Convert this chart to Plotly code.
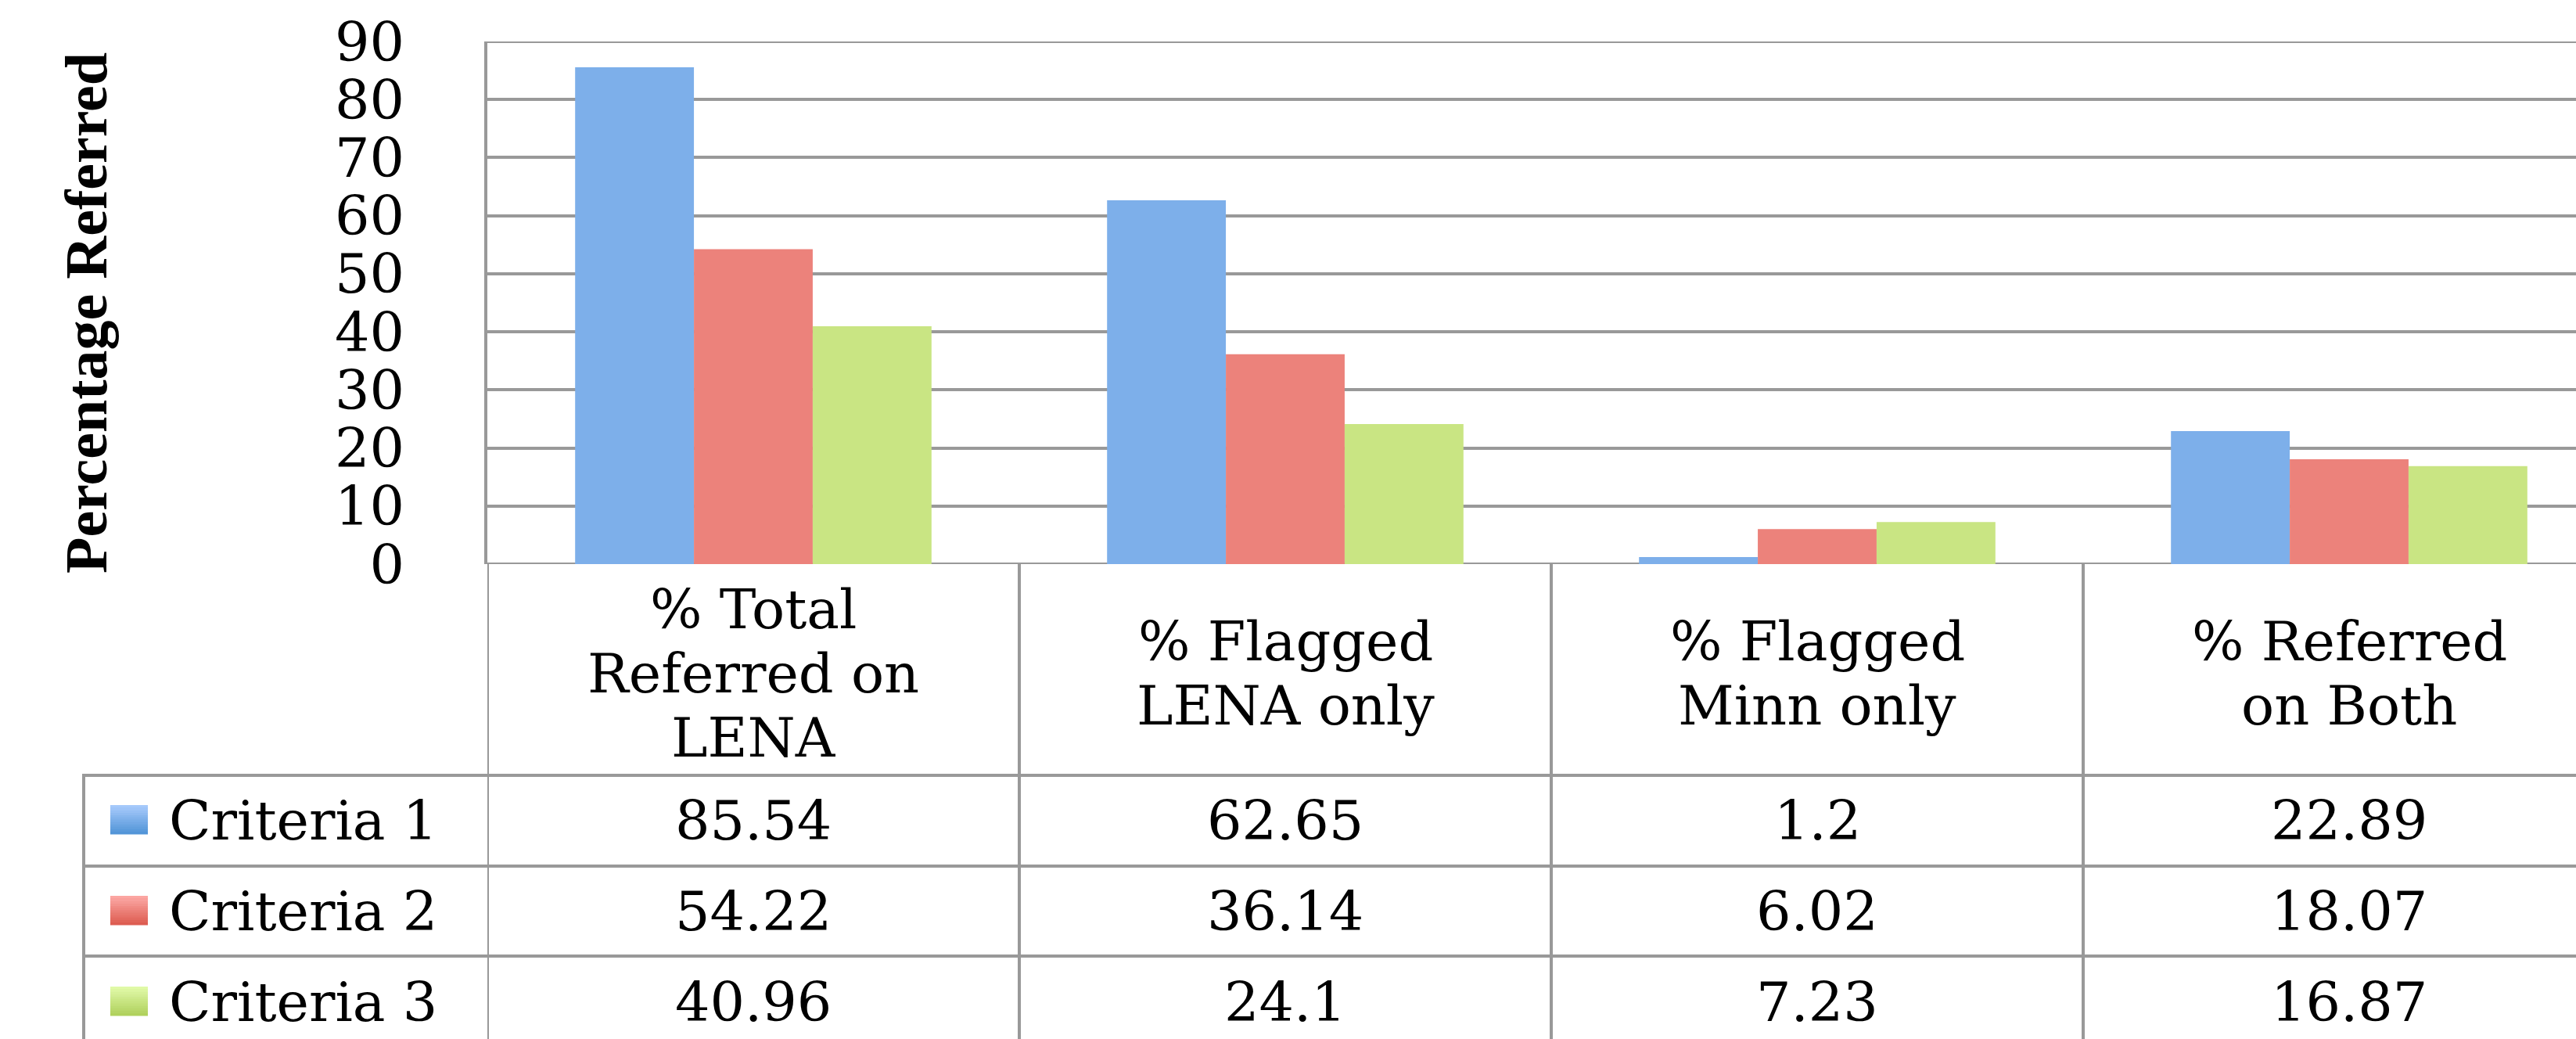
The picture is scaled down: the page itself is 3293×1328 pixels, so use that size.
import plotly.graph_objects as go

categories = ["% Total<br>Referred on<br>LENA", "% Flagged<br>LENA only", "% Flagged<br>Minn only", "% Referred<br>on Both"]
series_names = ["Criteria 1", "Criteria 2", "Criteria 3"]
criteria1 = [85.54, 62.65, 1.2, 22.89]
criteria2 = [54.22, 36.14, 6.02, 18.07]
criteria3 = [40.96, 24.1, 7.23, 16.87]
y_ticks = [0, 10, 20, 30, 40, 50, 60, 70, 80, 90]
y_title = "Percentage Referred"

series_values = [criteria1, criteria2, criteria3]
colors = ["#7DAFEA", "#EC827B", "#C9E583"]
colors_light = ["#A9CBFD", "#FDA9A6", "#E2FBAA"]
colors_dark = ["#4F93D6", "#DC5A4E", "#AECF5A"]

W, H = 3293, 1328
L, T, B = 623, 53, 721
PW, PH = W - L, B - T
COLW = 680.0
GRID = "#999999"
FONT = "DejaVu Serif"


def px(x):
    return (x - L) / PW


def py(y):
    return (B - y) / PH


def mix(c1, c2, t):
    a = [int(c1[k:k + 2], 16) for k in (1, 3, 5)]
    b = [int(c2[k:k + 2], 16) for k in (1, 3, 5)]
    return "#%02X%02X%02X" % tuple(round(a[k] + (b[k] - a[k]) * t) for k in range(3))


xs = list(range(len(categories)))
fig = go.Figure()
for name, vals, c in zip(series_names, series_values, colors):
    fig.add_trace(go.Bar(x=xs, y=vals, name=name, marker=dict(color=c, line=dict(width=0)),
                         showlegend=False))

shapes = []
annotations = []

# top and bottom frame lines of the plot area
for yv in (y_ticks[0], y_ticks[-1]):
    shapes.append(dict(type="line", xref="paper", yref="y", x0=0, x1=1, y0=yv, y1=yv,
                       line=dict(color=GRID, width=4), layer="below"))

# table vertical lines (column borders) from zero line to bottom
for i in range(len(categories)):
    shapes.append(dict(type="line", xref="x", yref="paper", x0=i - 0.5, x1=i - 0.5,
                       y0=py(B), y1=py(H + 5), line=dict(color=GRID, width=4)))
# legend column left border
shapes.append(dict(type="line", xref="paper", yref="paper", x0=px(107), x1=px(107),
                   y0=py(991), y1=py(H + 5), line=dict(color=GRID, width=4)))
# row lines
for yy in [991, 1107, 1222]:
    shapes.append(dict(type="line", xref="paper", yref="paper", x0=px(105), x1=px(W + 5),
                       y0=py(yy), y1=py(yy), line=dict(color=GRID, width=4)))

# header labels
for i, cat in enumerate(categories):
    lines = cat.split("<br>")
    n = len(lines)
    for j, ln in enumerate(lines):
        yc = 861 + (j - (n - 1) / 2) * 82
        annotations.append(dict(text=ln, xref="x", yref="paper", x=i, y=py(yc),
                                xanchor="center", yanchor="middle", showarrow=False,
                                font=dict(family=FONT, size=70, color="black")))

# table rows
row_centers = [1049, 1165, 1281]
NSTEP = 12
for r, (name, vals) in enumerate(zip(series_names, series_values)):
    yc = row_centers[r]
    top, bot = yc - 20, yc + 17
    for s in range(NSTEP):
        y0 = top + (bot - top) * s / NSTEP
        y1 = top + (bot - top) * (s + 1) / NSTEP + 0.5
        shapes.append(dict(type="rect", xref="paper", yref="paper", x0=px(141), x1=px(189),
                           y0=py(y0), y1=py(y1), line=dict(width=0),
                           fillcolor=mix(colors_light[r], colors_dark[r], (s + 0.5) / NSTEP)))
    annotations.append(dict(text=name, xref="paper", yref="paper", x=px(214), y=py(yc),
                            xanchor="left", yanchor="middle", showarrow=False,
                            font=dict(family=FONT, size=70, color="black")))
    for i, v in enumerate(vals):
        annotations.append(dict(text=str(v), xref="x", yref="paper", x=i, y=py(yc),
                                xanchor="center", yanchor="middle", showarrow=False,
                                font=dict(family=FONT, size=70, color="black")))

# y-axis title
annotations.append(dict(text="<b>" + y_title + "</b>", xref="paper", yref="paper",
                        x=px(110), y=py(400), xanchor="center", yanchor="middle",
                        textangle=-90, showarrow=False,
                        font=dict(family="Liberation Serif", size=76, color="black")))

fig.update_layout(
    width=W, height=H,
    margin=dict(l=L, r=0, t=T, b=H - B, pad=0),
    paper_bgcolor="white", plot_bgcolor="white",
    barmode="group", bargap=0.33, bargroupgap=0,
    shapes=shapes, annotations=annotations,
    xaxis=dict(range=[-0.5, -0.5 + PW / COLW], showticklabels=False, showgrid=False,
               zeroline=False, showline=False, fixedrange=True),
    yaxis=dict(range=[0, 90], tickvals=y_ticks, ticktext=[str(t) for t in y_ticks],
               showgrid=True, gridcolor=GRID, gridwidth=4, zeroline=False,
               showline=True, linecolor=GRID, linewidth=4,
               ticks="", ticklabelstandoff=88,
               tickfont=dict(family=FONT, size=70, color="black")),
)

fig.write_html("out.html")
